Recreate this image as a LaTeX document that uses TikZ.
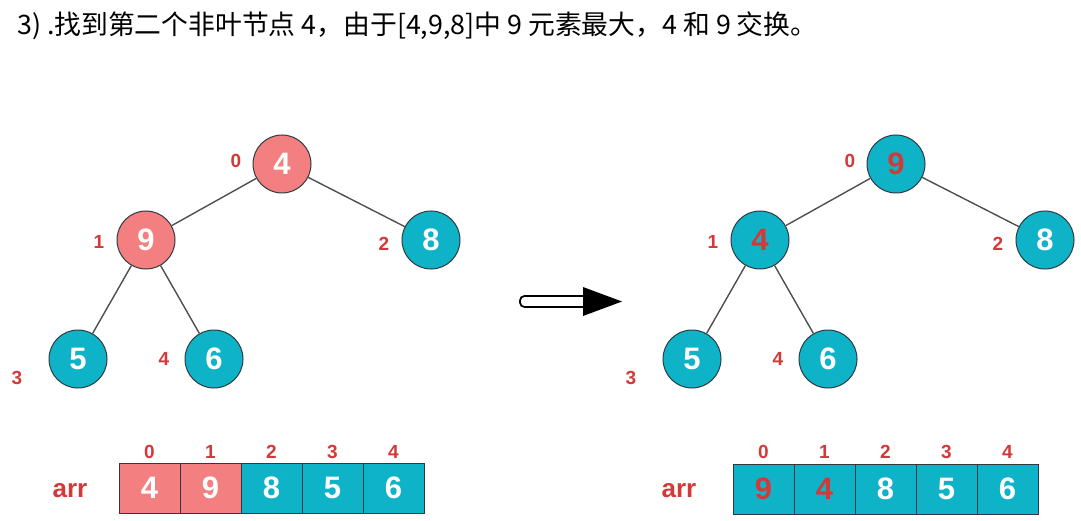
\documentclass[tikz,border=0pt]{standalone}
\usepackage{fontspec}
\setmainfont{Liberation Sans}
\newfontfamily\cjk{Noto Sans CJK SC}
\definecolor{pinkc}{HTML}{F47F80}
\definecolor{tealc}{HTML}{0FB3C8}
\definecolor{redc}{HTML}{D23A3A}
\definecolor{ringc}{HTML}{2E3A40}
\definecolor{edgec}{HTML}{505050}
\tikzset{
  tnode/.style={circle, draw=ringc, line width=1pt, minimum size=58pt, inner sep=0pt,
    font=\bfseries\fontsize{31}{31}\selectfont, text=white},
  pinkn/.style={tnode, fill=pinkc},
  tealn/.style={tnode, fill=tealc},
  idx/.style={font=\bfseries\fontsize{19}{19}\selectfont, text=redc, inner sep=0pt},
  cell/.style={draw=ringc, line width=1pt, minimum width=61pt, minimum height=50pt, inner sep=0pt,
    font=\bfseries\fontsize{31}{31}\selectfont, text=white},
  pinkcell/.style={cell, fill=pinkc},
  tealcell/.style={cell, fill=tealc},
  edge/.style={draw=edgec, line width=1.4pt},
  arrlab/.style={font=\bfseries\fontsize{26}{26}\selectfont, text=redc, inner sep=0pt}
}
\begin{document}
\begin{tikzpicture}[x=1pt,y=-1pt]
\useasboundingbox[fill=white] (0,0) rectangle (1081,521);
% title
\node[anchor=west, inner sep=0pt, font=\cjk\fontsize{26.8}{27}\selectfont] (title) at (17,26)
  {3) .找到第二个非叶节点 4，由于[4,9,8]中 9 元素最大，4 和 9 交换。};

% left tree
\node[pinkn] (l0) at (282,164) {4};
\node[pinkn] (l1) at (146,240) {9};
\node[tealn] (l2) at (431,240) {8};
\node[tealn] (l3) at (78,359) {5};
\node[tealn] (l4) at (214,359) {6};
\draw[edge] (l0) -- (l1);
\draw[edge] (l0) -- (l2);
\draw[edge] (l1) -- (l3);
\draw[edge] (l1) -- (l4);
\node[idx] (li0) at (236,161) {0};
\node[idx] (li1) at (99,242) {1};
\node[idx] (li2) at (384,244) {2};
\node[idx] (li3) at (17,378) {3};
\node[idx] (li4) at (164,359) {4};

% right tree
\node[tealn, text=redc] (r0) at (896,164) {9};
\node[tealn, text=redc] (r1) at (760,240) {4};
\node[tealn] (r2) at (1045,240) {8};
\node[tealn] (r3) at (692,359) {5};
\node[tealn] (r4) at (828,359) {6};
\draw[edge] (r0) -- (r1);
\draw[edge] (r0) -- (r2);
\draw[edge] (r1) -- (r3);
\draw[edge] (r1) -- (r4);
\node[idx] (ri0) at (850,161) {0};
\node[idx] (ri1) at (713,242) {1};
\node[idx] (ri2) at (998,244) {2};
\node[idx] (ri3) at (631,378) {3};
\node[idx] (ri4) at (778,359) {4};

% big arrow
\draw[line width=1.8pt, rounded corners=4.5pt, fill=white] (586,296) -- (520,296) -- (520,307) -- (586,307);
\fill[black] (583,287) -- (622,301.5) -- (583,316) -- cycle;

% left array
\node[arrlab] (la) at (70,491) {arr};
\node[pinkcell] (lc0) at (149.5,488) {4};
\node[pinkcell] (lc1) at (210.5,488) {9};
\node[tealcell] (lc2) at (271.5,488) {8};
\node[tealcell] (lc3) at (332.5,488) {5};
\node[tealcell] (lc4) at (393.5,488) {6};
\foreach \i in {0,...,4} \node[idx] (lx\i) at ([yshift=36pt]lc\i.center) {\i};

% right array
\node[arrlab] (ra) at (679,491) {arr};
\node[tealcell, text=redc] (rc0) at (763.5,489) {9};
\node[tealcell, text=redc] (rc1) at (824.5,489) {4};
\node[tealcell] (rc2) at (885.5,489) {8};
\node[tealcell] (rc3) at (946.5,489) {5};
\node[tealcell] (rc4) at (1007.5,489) {6};
\foreach \i in {0,...,4} \node[idx] (rx\i) at ([yshift=37pt]rc\i.center) {\i};
\end{tikzpicture}
\end{document}
